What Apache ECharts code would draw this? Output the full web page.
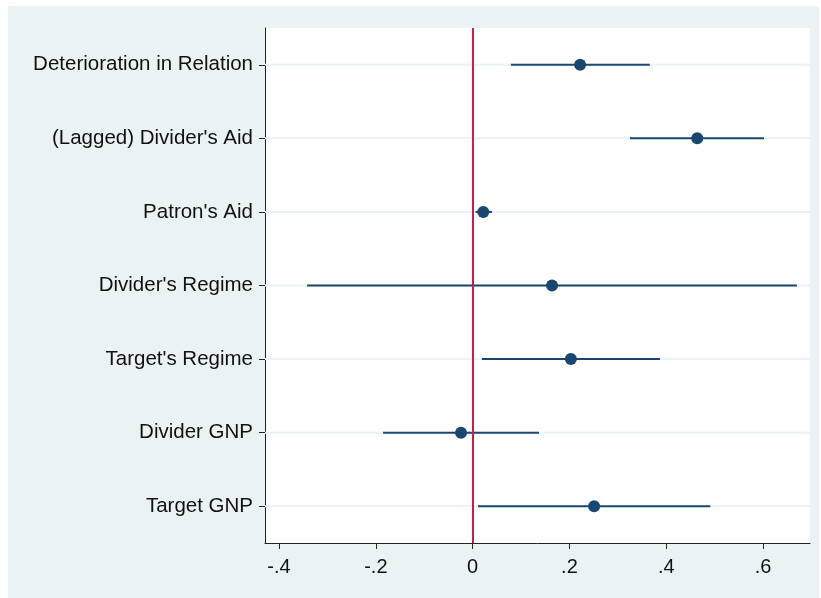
<!DOCTYPE html>
<html>
<head>
<meta charset="utf-8">
<script src="https://cdn.jsdelivr.net/npm/echarts@6/dist/echarts.min.js"></script>
<style>
html,body{margin:0;padding:0;background:#fff;}
#c{width:821px;height:598px;}
</style>
</head>
<body>
<div id="c"></div>
<script>
const categories = ["Deterioration in Relation", "(Lagged) Divider's Aid", "Patron's Aid", "Divider's Regime", "Target's Regime", "Divider GNP", "Target GNP"];
const estimates = [0.222, 0.464, 0.022, 0.164, 0.203, -0.024, 0.251];
const lowerCI = [0.079, 0.325, 0.006, -0.342, 0.019, -0.185, 0.011];
const upperCI = [0.366, 0.602, 0.040, 0.670, 0.387, 0.137, 0.491];
const tickValues = [-0.4, -0.2, 0, 0.2, 0.4, 0.6];
const tickLabels = ["-.4", "-.2", "0", ".2", ".4", ".6"];
const xMin = -0.429, xMax = 0.697;

const font = "'Liberation Sans', Arial, sans-serif";
const chart = echarts.init(document.getElementById('c'), null, {renderer: 'canvas'});

const ciData = categories.map((c, i) => [lowerCI[i], upperCI[i], i]);
const ptData = categories.map((c, i) => [estimates[i], i]);
const gridData = categories.map((c, i) => [i]);

chart.setOption({
  animation: false,
  backgroundColor: '#fff',
  graphic: [{
    type: 'rect', z: -10, silent: true,
    shape: {x: 8, y: 6, width: 811, height: 592},
    style: {fill: '#EAF2F3'}
  }],
  grid: {left: 265, right: 11, top: 28, bottom: 55, show: true, backgroundColor: '#fff', borderWidth: 0},
  xAxis: {
    type: 'value', min: xMin, max: xMax,
    axisLine: {show: true, onZero: false, lineStyle: {color: '#222', width: 1}},
    axisTick: {show: true, length: 6, customValues: tickValues, lineStyle: {color: '#222'}},
    axisLabel: {customValues: tickValues, fontSize: 20, fontFamily: font, color: '#111', margin: 14,
      formatter: v => { const k = tickValues.findIndex(t => Math.abs(t - v) < 1e-9); return k >= 0 ? tickLabels[k] : ''; }},
    splitLine: {show: false}
  },
  yAxis: {
    type: 'category', data: categories, inverse: true,
    axisLine: {show: true, onZero: false, lineStyle: {color: '#222', width: 1}},
    axisTick: {show: true, alignWithLabel: true, length: 6, lineStyle: {color: '#222'}},
    axisLabel: {fontSize: 20.5, fontFamily: font, color: '#111', margin: 12, padding: [4, 0, 0, 0]},
    splitLine: {show: false}
  },
  series: [
    {
      type: 'custom', z: 1, silent: true,
      data: gridData,
      renderItem: (params, api) => {
        const a = api.coord([xMin, api.value(0)]);
        const b = api.coord([xMax, api.value(0)]);
        return {type: 'line', shape: {x1: a[0], y1: a[1], x2: b[0], y2: b[1]}, style: {stroke: '#EAF2F3', lineWidth: 2}};
      }
    },
    {
      type: 'custom', z: 2, silent: true,
      data: ciData,
      encode: {x: [0, 1], y: 2},
      renderItem: (params, api) => {
        const a = api.coord([api.value(0), api.value(2)]);
        const b = api.coord([api.value(1), api.value(2)]);
        return {type: 'line', shape: {x1: a[0], y1: a[1], x2: b[0], y2: b[1]}, style: {stroke: '#1A476F', lineWidth: 2}};
      }
    },
    {
      type: 'scatter', z: 3, silent: true, data: [],
      markLine: {
        silent: true, symbol: 'none', label: {show: false},
        lineStyle: {color: '#D01C45', width: 2, type: 'solid'},
        data: [{xAxis: 0}]
      }
    },
    {
      type: 'scatter', z: 4, silent: true,
      data: ptData, symbol: 'circle', symbolSize: 12,
      itemStyle: {color: '#1A476F', opacity: 1}
    }
  ]
});
</script>
</body>
</html>
